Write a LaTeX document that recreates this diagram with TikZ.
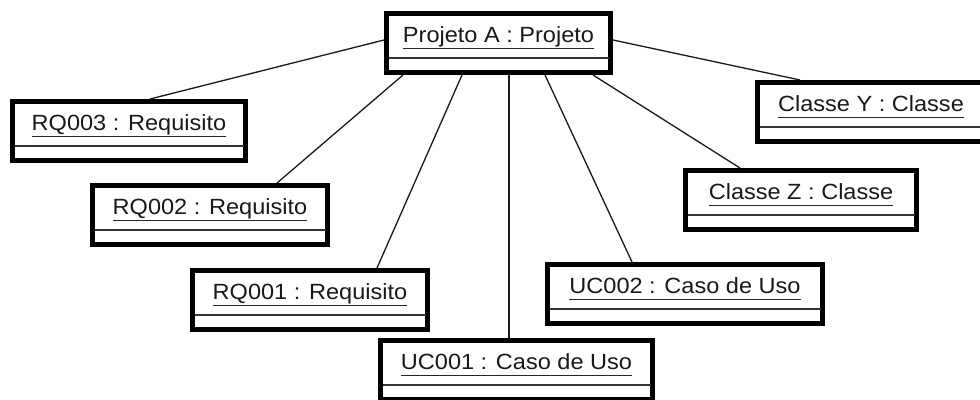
\documentclass[tikz,border=0pt]{standalone}
\usepackage{fontspec}
\setmainfont[FakeStretch=1.07]{Liberation Sans}
\usetikzlibrary{calc}

\tikzset{
  objframe/.style={draw=black, line width=5pt, fill=white, inner sep=0pt,
    minimum height=59pt},
  objlabel/.style={inner sep=0pt, text=black!90,
    font=\fontsize{22}{25}\selectfont},
  uline/.style={line width=1.6pt, black!85},
  sepline/.style={line width=1.8pt, black!80},
  link/.style={line width=1.3pt, black!90}
}

% UML object box: name, left, top, right, label (coordinates in px, y downward)
\newcommand\umlobj[5]{%
  \node[objframe, minimum width={(#4-#2-5)*1pt}] (#1) at ({(#2+#4)/2},{#3+32}) {};
  \node[objlabel, anchor=base] (#1-t) at ({(#2+#4)/2},{#3+31.5}) {#5};
  \draw[uline] ([yshift=-6pt]#1-t.base west) -- ([yshift=-6pt]#1-t.base east);
  \draw[sepline] ({#2+4.5},{#3+47}) -- ({#4-4.5},{#3+47});
}

\begin{document}
\begin{tikzpicture}[x=1pt, y=-1pt]
  \useasboundingbox (0,0) rectangle (980,399);
  \clip (0,0) rectangle (980,399);
  \fill[white] (0,0) rectangle (980,399);

  % object boxes
  \umlobj{proj}{384}{11}{613}{Projeto A : Projeto}
  \umlobj{rqc}{10}{99}{248}{RQ003 : Requisito}
  \umlobj{rqb}{90}{183}{330}{RQ002 : Requisito}
  \umlobj{rqa}{190}{268}{430}{RQ001 : Requisito}
  \umlobj{uca}{378}{338}{655}{UC001 : Caso de Uso}
  \umlobj{ucb}{545}{262}{825}{UC002 : Caso de Uso}
  \umlobj{clz}{683}{168}{919}{Classe Z : Classe}
  \umlobj{cly}{755}{80}{987}{Classe Y : Classe}

  % links from the project to its requirements, use cases and classes
  \draw[link] (proj.west |- 0,40) -- (150,0 |- rqc.north);
  \draw[link] (403,0 |- proj.south) -- (277,0 |- rqb.north);
  \draw[link] (462,0 |- proj.south) -- (377,0 |- rqa.north);
  \draw[link] (509,0 |- proj.south) -- (509,0 |- uca.north);
  \draw[link] (545,0 |- proj.south) -- (632,0 |- ucb.north);
  \draw[link] (593,0 |- proj.south) -- (740,0 |- clz.north);
  \draw[link] (proj.east |- 0,40) -- (800,0 |- cly.north);
\end{tikzpicture}
\end{document}
